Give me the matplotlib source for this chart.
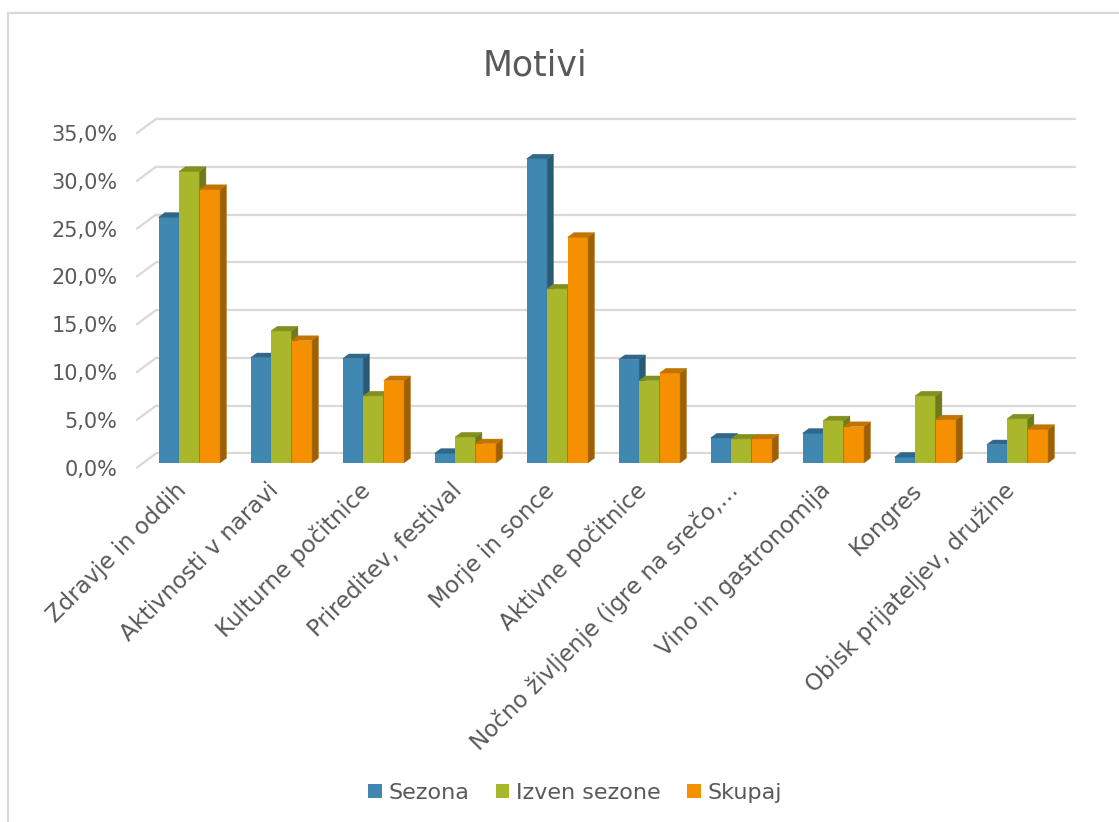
import matplotlib.pyplot as plt
from matplotlib.patches import Polygon, Patch
from matplotlib.lines import Line2D
from matplotlib.ticker import FuncFormatter

categories = ["Zdravje in oddih", "Aktivnosti v naravi", "Kulturne počitnice",
              "Prireditev, festival", "Morje in sonce", "Aktivne počitnice",
              "Nočno življenje (igre na srečo,…", "Vino in gastronomija",
              "Kongres", "Obisk prijateljev, družine"]
sezona = [25.7, 11.0, 10.9, 1.0, 31.8, 10.8, 2.6, 3.1, 0.6, 1.9]
izven_sezone = [30.5, 13.8, 7.0, 2.7, 18.2, 8.6, 2.5, 4.4, 7.0, 4.6]
skupaj = [28.6, 12.8, 8.6, 2.0, 23.6, 9.4, 2.5, 3.8, 4.5, 3.5]
series_names = ["Sezona", "Izven sezone", "Skupaj"]
y_ticks = [0, 5, 10, 15, 20, 25, 30, 35]

# front / side / top shades per series
front_cols = ["#4088b1", "#a9b82a", "#f59100"]
side_cols = ["#2b5a76", "#6f7a1b", "#a05f00"]
top_cols = ["#30678a", "#838f20", "#c27300"]

TXT = "#595959"
GRID = "#d9d9d9"
plt.rcParams['font.family'] = ['DejaVu Sans']

W, H = 1119, 822
fig = plt.figure(figsize=(W / 100, H / 100), dpi=100)
ax = fig.add_axes([137 / W, (H - 467.5) / H, 920 / W, (467.5 - 133) / H])
ax.set_xlim(-0.5, 9.5)
ax.set_ylim(0, 35)
for s in ax.spines.values():
    s.set_visible(False)

# depth of the back wall in data units, bars take the middle third
dxw, dyw = 19 / 92, 14 / 9.557
dxb, dyb = dxw / 3, dyw / 3

# back wall gridlines plus the receding diagonal on the left
x0, x1 = ax.get_xlim()
for t in y_ticks:
    ax.plot([x0 + dxw, x1 + dxw], [t + dyw, t + dyw], color=GRID, lw=1.6,
            clip_on=False, zorder=1, solid_capstyle='butt')
    ax.plot([x0, x0 + dxw], [t, t + dyw], color=GRID, lw=1.6,
            clip_on=False, zorder=1)

bw = 0.2228
series = [sezona, izven_sezone, skupaj]
z = 2
for i in range(len(categories)):
    for k, vals in enumerate(series):
        v = vals[i]
        xl = i + (k - 1.5) * bw + dxb
        xr = xl + bw
        ax.bar(xl, v, width=bw, bottom=dyb, align='edge', color=front_cols[k],
               lw=0, zorder=z, clip_on=False)
        side = Polygon([(xr, dyb), (xr + dxb, dyb + dyb), (xr + dxb, dyb + dyb + v),
                        (xr, dyb + v)], closed=True, facecolor=side_cols[k],
                       edgecolor=side_cols[k], lw=0.3, zorder=z, clip_on=False)
        top = Polygon([(xl, dyb + v), (xr, dyb + v), (xr + dxb, dyb + dyb + v),
                       (xl + dxb, dyb + dyb + v)], closed=True,
                      facecolor=top_cols[k], edgecolor=top_cols[k], lw=0.3,
                      zorder=z, clip_on=False)
        ax.add_patch(side)
        ax.add_patch(top)
        z += 1

ax.set_yticks(y_ticks)
ax.yaxis.set_major_formatter(FuncFormatter(lambda v, p: f"{v:.1f}%".replace(".", ",")))
ax.tick_params(axis='y', length=0, pad=14, labelsize=15, labelcolor=TXT)

ax.set_xticks(range(len(categories)))
ax.set_xticklabels(categories, rotation=45, ha='right', va='center',
                   rotation_mode='anchor')
ax.tick_params(axis='x', length=0, pad=14, labelsize=16.5, labelcolor=TXT)

fig.text(535 / W, 1 - 65 / H, "Motivi", ha='center', va='center',
         fontsize=25, color=TXT)

handles = [Patch(facecolor=c, edgecolor='none') for c in front_cols]
fig.legend(handles, series_names, loc='center', bbox_to_anchor=(575 / W, 1 - 793 / H),
           ncol=3, frameon=False, fontsize=16, labelcolor=TXT,
           handlelength=0.6, handleheight=0.6, handletextpad=0.3,
           columnspacing=1.2)

# chart frame
fig.add_artist(Line2D([8 / W, 8 / W], [0, 1 - 13 / H], transform=fig.transFigure,
                      color=GRID, lw=1.6))
fig.add_artist(Line2D([8 / W, 1], [1 - 13 / H, 1 - 13 / H], transform=fig.transFigure,
                      color=GRID, lw=1.6))

fig.savefig("out.png", dpi=100, facecolor='white')
